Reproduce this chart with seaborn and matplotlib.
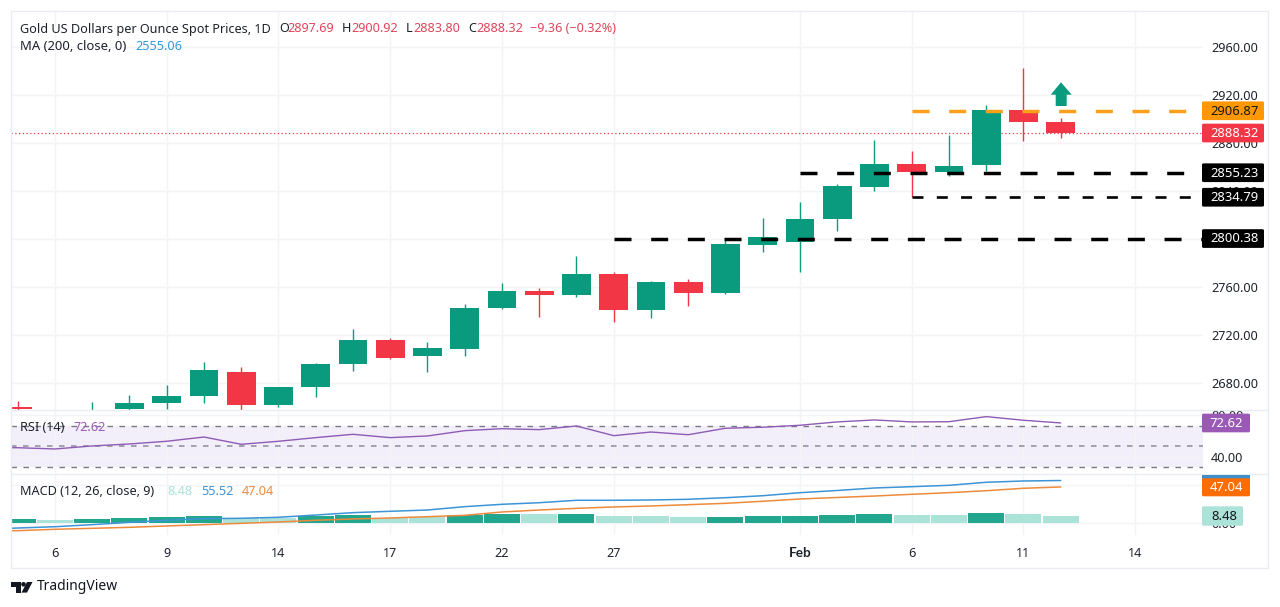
import numpy as np
import pandas as pd
import matplotlib
matplotlib.use("Agg")
import matplotlib.pyplot as plt
from matplotlib.patches import FancyBboxPatch, Polygon, Rectangle, Circle
import seaborn as sns

# ---- data ----
tick_days = [1, 4, 7, 10, 13, 16, 21, 24, 27, 30]
tick_labels = ["6", "9", "14", "17", "22", "27", "Feb", "6", "11", "14"]

opens = [2659.75, 2640, 2640, 2658.1, 2663.1, 2669.2, 2689.2, 2661.7, 2676.4, 2696.1, 2715.8, 2702.5, 2708.6, 2742.25,
         2756.7, 2753.3, 2770.8, 2740.8, 2763.9, 2754.75, 2795, 2797.5, 2816.7, 2843.6, 2862.5, 2855.8, 2861.4, 2907.5, 2897.69]
highs = [2665.25, 2652, 2663.9, 2670, 2678.3, 2697.75, 2693.1, 2677, 2696.5, 2724.75, 2717.5, 2714.2, 2745.8, 2763.6,
         2758.9, 2785.8, 2772.5, 2764.75, 2766.4, 2799, 2817.5, 2830.8, 2845.8, 2882.5, 2873.3, 2886.7, 2911.7, 2942.75, 2900.92]
lows = [2656.7, 2635, 2635, 2657, 2658.1, 2663.6, 2657.5, 2659.75, 2668.6, 2689.75, 2700, 2689.2, 2702.75, 2742,
        2735.25, 2751.9, 2730.8, 2734.4, 2744.2, 2753.9, 2788.9, 2772.25, 2806.7, 2840, 2835.25, 2852.5, 2856.9, 2881.7, 2883.8]
closes = [2658.1, 2648, 2656, 2663.1, 2669.2, 2690.8, 2661.7, 2676.4, 2696.1, 2715.8, 2700.6, 2708.9, 2742.5, 2756.4,
          2753.3, 2770.8, 2740.8, 2763.9, 2754.75, 2795.6, 2801.4, 2816.7, 2844.2, 2862.5, 2856.1, 2860.8, 2907.5, 2897.75, 2888.32]

rsi = [49.0, 48.8, 47.6, 50.5, 52.4, 55.0, 59.1, 52.1, 55.0, 58.5, 61.7, 58.5, 60.1, 65.2, 67.1, 66.2, 69.7, 60.4, 63.9,
       61.3, 67.5, 68.5, 70.4, 73.6, 75.5, 73.6, 73.8, 78.7, 75.2, 72.62]
macd = [-8.9, -7.0, -5.3, -2.6, 0.5, 3.2, 5.3, 5.8, 7.1, 10.1, 13.2, 15.0, 16.7, 21.1, 24.2, 26.3, 29.5, 29.5, 29.9, 30.8,
        32.9, 35.5, 39.5, 42.4, 45.7, 47.4, 49.2, 53.2, 54.9, 55.52]
signal = [-11.2, -10.5, -8.7, -7.4, -6.1, -4.3, -2.6, -0.8, 0.9, 3.2, 4.9, 6.2, 7.9, 9.7, 14.1, 16.7, 18.9, 20.7, 22.0,
          23.7, 25.5, 28.2, 31.2, 33.2, 35.1, 37.4, 39.5, 42.1, 45.3, 47.04]
hist = [4.9, 4.2, 5.3, 6.2, 7.1, 8.8, 6.6, 6.2, 8.4, 10.1, 6.8, 7.9, 9.7, 11.4, 11.1, 11.1, 8.8, 8.4, 7.1, 7.9, 8.4, 8.8,
        10.1, 11.4, 10.5, 10.1, 12.4, 11.1, 8.48]
hist_kind = list("dlddddllddllddldllldddddlldll")

level_orange = 2906.87
levels_black = [2855.23, 2834.79, 2800.38]
last_close = 2888.32

# ---- style ----
FONT = ["Noto Sans", "DejaVu Sans"]
sns.set_theme(style="white")
plt.rcParams["font.family"] = FONT
GREEN, RED = "#0A9A7E", "#F23645"
GRID, INK = "#F2F4F8", "#1E222D"
TS = 9.1

W, H = 1280, 607
fig = plt.figure(figsize=(W / 100, H / 100), dpi=100, facecolor="white")


def pane(top, bottom, left=11, right=1203):
    return fig.add_axes([left / W, 1 - bottom / H, (right - left) / W, (bottom - top) / H])


ax = pane(11, 410)
ax_rsi = pane(411, 473)
ax_macd = pane(474, 535)
XLIM = (-0.18, 31.82)

days = np.arange(len(closes))
line_days = np.arange(-1, len(closes))

for a in (ax, ax_rsi, ax_macd):
    a.set_facecolor("none")
    for s in a.spines.values():
        s.set_visible(False)
    a.yaxis.tick_right()
    a.set_axisbelow(True)
    a.grid(True, color=GRID, lw=1)
    a.tick_params(axis="y", length=0, pad=5.8, labelsize=TS, labelcolor=INK)
    a.tick_params(axis="x", length=0)

# candles
up = np.array(closes) >= np.array(opens)
cols = [GREEN if u else RED for u in up]
ax.vlines(days, lows, highs, colors=cols, lw=1.0, zorder=2)
ax.bar(days, np.abs(np.array(closes) - np.array(opens)), bottom=np.minimum(opens, closes),
       width=0.77, color=cols, linewidth=0, zorder=3)
ax.set_xlim(*XLIM)
ax.set_ylim(2657.5, 2990)
ax.set_yticks(np.arange(2680, 2961, 40))
ax.set_yticklabels([f"{v:.2f}" for v in np.arange(2680, 2961, 40)])

# dash lengths are multiples of the line width: px length / px width
LW_THICK = 2.5
PX_THICK = LW_THICK / 0.72
LW_THIN = 1.9
PX_THIN = LW_THIN / 0.72
long_dash = (0, (17 / PX_THICK, 19.67 / PX_THICK))
short_dash = (0, (11 / PX_THIN, 13.3 / PX_THIN))

ax.axhline(last_close, color=RED, lw=0.9, ls=(0, (1, 2)), zorder=1)
ax.plot([24, XLIM[1]], [level_orange] * 2, color="#F9A11B", lw=LW_THICK, ls=long_dash, zorder=4)
ax.plot([21, XLIM[1]], [levels_black[0]] * 2, color="black", lw=LW_THICK, ls=long_dash, zorder=4)
ax.plot([24, XLIM[1]], [levels_black[1]] * 2, color="black", lw=LW_THIN, ls=short_dash, zorder=4)
ax.plot([16, XLIM[1]], [levels_black[2]] * 2, color="black", lw=LW_THICK, ls=long_dash, zorder=4)

# RSI
ax_rsi.axhspan(30, 70, color="#F2EEFA", lw=0, zorder=0)
sns.lineplot(x=line_days, y=rsi, color="#8E5BB5", lw=1.0, ax=ax_rsi, zorder=3, errorbar=None)
for lv, c, lw in ((70, "#787B86", 1.0), (50, "#9A9CA6", 1.3), (30, "#787B86", 1.0)):
    ax_rsi.axhline(lv, color=c, lw=lw, ls=(0, (5.5 / (lw / 0.72), 6.5 / (lw / 0.72))), zorder=2)
ax_rsi.set_xlim(*XLIM)
ax_rsi.set_ylim(24.5, 84.1)
ax_rsi.set_yticks([40, 80])
ax_rsi.set_yticklabels(["40.00", "80.00"])

# MACD
sns.barplot(x=days, y=hist, hue=hist_kind, palette={"d": "#22A68E", "l": "#ACE3D9"}, native_scale=True,
            dodge=False, width=0.965, saturation=1, legend=False, linewidth=0, ax=ax_macd, zorder=2)
sns.lineplot(x=line_days, y=macd, color="#3D94D6", lw=1.1, ax=ax_macd, zorder=3, errorbar=None)
sns.lineplot(x=line_days, y=signal, color="#EE8A3C", lw=1.1, ax=ax_macd, zorder=3, errorbar=None)
ax_macd.set_xlim(*XLIM)
ax_macd.set_ylim(-16.2, 64.1)
ax_macd.set_yticks([0, 50])
ax_macd.set_yticklabels(["0.00", "50.00"])
ax_macd.set_xlabel("")
ax_macd.set_ylabel("")
ax_rsi.set_xlabel("")

for a in (ax, ax_rsi, ax_macd):
    a.set_xticks(tick_days)
ax.tick_params(axis="x", labelbottom=False)
ax_rsi.tick_params(axis="x", labelbottom=False)
ax_macd.set_xticklabels(tick_labels)
ax_macd.tick_params(axis="x", pad=8.6, labelsize=TS, labelcolor=INK)
for t in ax_macd.get_xticklabels():
    if t.get_text() == "Feb":
        t.set_family(["Lato", "DejaVu Sans"])
        t.set_fontweight("bold")
        t.set_fontsize(TS + 0.6)

# ---- overlay in pixel coordinates ----
ov = fig.add_axes([0, 0, 1, 1], zorder=10)
ov.set_xlim(0, W)
ov.set_ylim(H, 0)
ov.axis("off")


def hline(y, x0=11, x1=1268):
    ov.plot([x0, x1], [y, y], color="#EAECF1", lw=1, solid_capstyle="butt")


hline(11); hline(568); hline(410); hline(473.5)
ov.plot([11, 11], [11, 568], color="#EAECF1", lw=1)
ov.plot([1268, 1268], [11, 568], color="#EAECF1", lw=1)


def pill(yc, fc, txt, tc, x0=1202, x1=1264, tx=1234.5, h=18.7):
    ov.add_patch(FancyBboxPatch((x0 + 1, yc - h / 2 + 1), x1 - x0 - 2, h - 2, boxstyle="round,pad=1,rounding_size=1.5",
                                fc=fc, ec="none", zorder=5))
    ov.text(tx, yc + 0.3, txt, color=tc, fontsize=TS + 0.3, ha="center", va="center", zorder=6)


def price_y(p):
    return ov.transData.inverted().transform(ax.transData.transform((0, p)))[1]


pill(price_y(level_orange), "#FF9800", f"{level_orange:.2f}", "#131722")
pill(price_y(last_close), RED, f"{last_close:.2f}", "white")
for lv in levels_black:
    pill(price_y(lv), "black", f"{lv:.2f}", "white")
pill(423, "#9B59B6", "72.62", "white", x1=1250, tx=1226.5)
ov.add_patch(Rectangle((1202, 474.7), 48, 5, fc="#3D8FC9", ec="none", zorder=4))
pill(487.3, "#FF6D00", "47.04", "white", x1=1250, tx=1226.5, h=18)
pill(516, "#ACE3D9", "8.48", "#131722", x1=1243, tx=1224, h=19.4)

# arrow
ov.add_patch(Polygon([(1061, 82.3), (1071.7, 94.7), (1066.7, 94.7), (1066.7, 106), (1055.7, 106), (1055.7, 94.7), (1050.7, 94.7)],
                     closed=True, fc=GREEN, ec="none", zorder=5))


def label(x, y, s, c=INK, **kw):
    ov.text(x, y, s, color=c, fontsize=kw.pop("fs", TS), ha="left", va="center", **kw)


HRED = "#E0455A"
label(20, 29, "Gold US Dollars per Ounce Spot Prices, 1D")
label(279, 29, "O"); label(287, 29, "2897.69", HRED)
label(342, 29, "H"); label(351, 29, "2900.92", HRED)
label(406, 29, "L"); label(413, 29, "2883.80", HRED)
label(468, 29, "C"); label(476, 29, "2888.32", HRED)
label(530, 29, "\u22129.36 (\u22120.32%)", HRED)
label(20, 47, "MA (200, close, 0)", fs=9.4)
label(135, 47, "2555.06", "#2E9BD6")
label(20, 427.5, "RSI (14)")
label(73, 427.5, "72.62", "#9B59B6")
label(20, 491.5, "MACD (12, 26, close, 9)")
label(167, 491.5, "8.48", "#ACE3D9")
label(201, 491.5, "55.52", "#3D94D6")
label(242, 491.5, "47.04", "#EE8A3C")

# footer
ov.add_patch(Polygon([(11, 582), (20.5, 582), (20.5, 592.6), (15.5, 592.6), (15.5, 587), (11, 587)], closed=True, fc="#131722", ec="none"))
ov.add_patch(Circle((23.5, 584.3), 2.3, fc="#131722", ec="none"))
ov.add_patch(Polygon([(27, 582), (32.5, 582), (27, 592.6), (21.5, 592.6)], closed=True, fc="#131722", ec="none"))
label(37, 587, "TradingView", "#131722", fs=10)

fig.savefig("out.png", dpi=100, facecolor="white")
